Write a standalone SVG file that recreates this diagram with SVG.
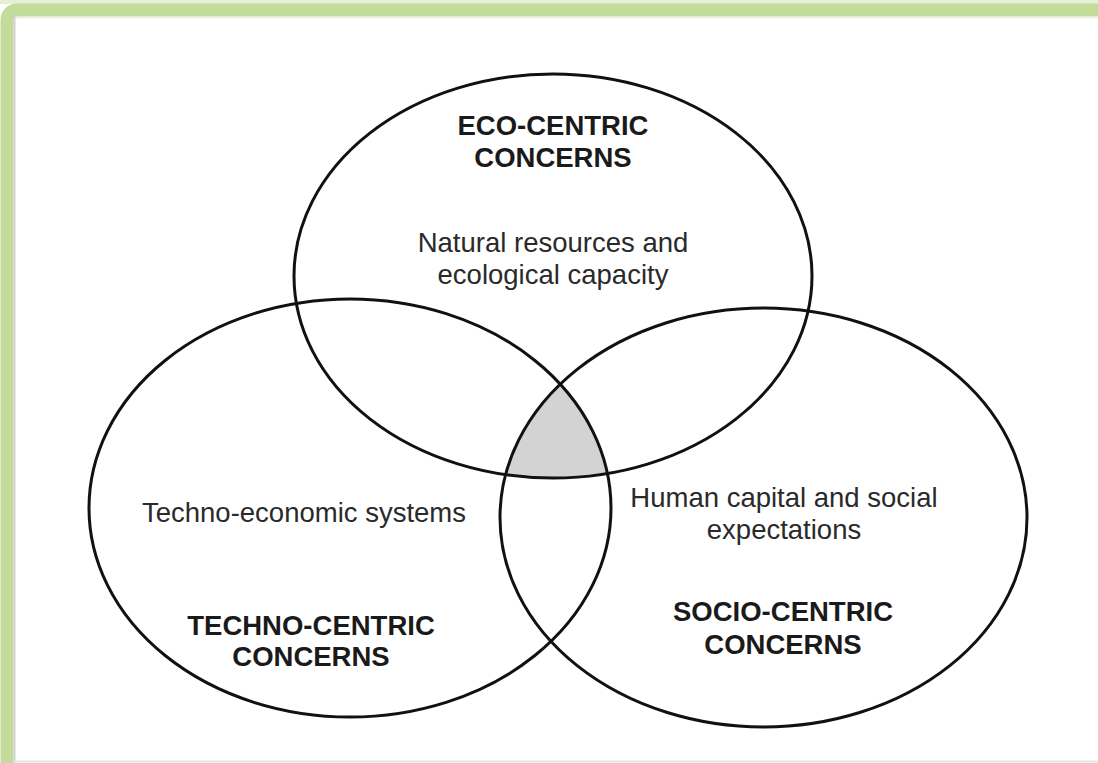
<svg xmlns="http://www.w3.org/2000/svg" width="1098" height="763" viewBox="0 0 1098 763">
  <defs>
    <style>
      .ring { fill: none; stroke: #111; stroke-width: 3; }
      .bold { font-family: "Liberation Sans", Arial, sans-serif; font-weight: bold; font-size: 27.5px; fill: #1a1a1a; text-anchor: middle; }
      .reg { font-family: "Liberation Sans", Arial, sans-serif; font-size: 27.5px; fill: #2a2a2a; text-anchor: middle; }
    </style>
    <clipPath id="clipL"><ellipse cx="350" cy="508" rx="261" ry="209"/></clipPath>
    <clipPath id="clipR"><ellipse cx="763.5" cy="517.5" rx="263.5" ry="209.5"/></clipPath>
  </defs>
  <rect x="0" y="0" width="1098" height="763" fill="#ffffff"/>
  <g id="frame">
    <rect x="0" y="0" width="1098" height="4" fill="#e6f0d6"/>
    <rect x="7" y="10" width="1200" height="900" rx="10" fill="none" stroke="#c4dc9b" stroke-width="13"/>
    <line x1="15" y1="17.5" x2="1098" y2="17.5" stroke="#e8eee0" stroke-width="1.5"/>
    <line x1="14.5" y1="17" x2="14.5" y2="763" stroke="#d2d2d2" stroke-width="2"/>
    <line x1="14" y1="761.5" x2="1098" y2="761.5" stroke="#e4e4e4" stroke-width="2"/>
  </g>
  <g id="core">
    <g clip-path="url(#clipL)">
      <g clip-path="url(#clipR)">
        <ellipse cx="553" cy="276" rx="259" ry="202" fill="#d3d3d3"/>
      </g>
    </g>
  </g>
  <g id="eco">
    <ellipse class="ring" cx="553" cy="276" rx="259" ry="202"/>
    <text class="bold" x="553" y="135">ECO-CENTRIC</text>
    <text class="bold" x="553" y="167">CONCERNS</text>
    <text class="reg" x="553" y="252">Natural resources and</text>
    <text class="reg" x="553" y="284">ecological capacity</text>
  </g>
  <g id="techno">
    <ellipse class="ring" cx="350" cy="508" rx="261" ry="209"/>
    <text class="reg" x="304" y="522">Techno-economic systems</text>
    <text class="bold" x="311" y="635">TECHNO-CENTRIC</text>
    <text class="bold" x="311" y="666">CONCERNS</text>
  </g>
  <g id="socio">
    <ellipse class="ring" cx="763.5" cy="517.5" rx="263.5" ry="209.5"/>
    <text class="reg" x="784" y="507">Human capital and social</text>
    <text class="reg" x="784" y="539">expectations</text>
    <text class="bold" x="783" y="621">SOCIO-CENTRIC</text>
    <text class="bold" x="783" y="654">CONCERNS</text>
  </g>
  <g id="connectors"></g>
</svg>
